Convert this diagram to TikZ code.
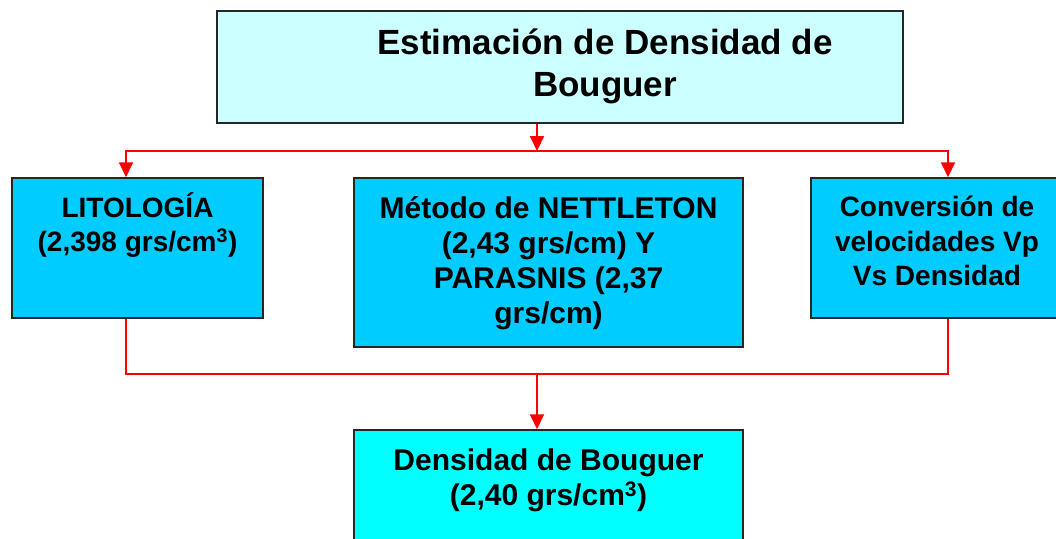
\documentclass[tikz,border=0pt]{standalone}
\usepackage{fontspec}
\setmainfont{Liberation Sans}
\usetikzlibrary{arrows.meta}
\definecolor{celeste}{HTML}{CCFFFF}
\definecolor{azul}{HTML}{00CCFF}
\definecolor{cian}{HTML}{00FFFF}
\tikzset{
  caja/.style={draw=black!85, line width=1.5pt, inner sep=0pt},
  texto/.style={align=center, font=\fontsize{30}{35}\selectfont\bfseries},
  textochico/.style={texto, font=\fontsize{28}{34.5}\selectfont\bfseries},
  linea/.style={draw=red, line width=2pt},
  flecha/.style={linea, -{Triangle[length=15pt,width=14pt]}}
}
\begin{document}
\begin{tikzpicture}[x=1pt,y=-1pt]
\useasboundingbox (0,0) rectangle (1056,538);

\node[caja, fill=celeste, minimum width=686pt, minimum height=112pt] (titulo) at (560,67) {};
\node[texto, font=\fontsize{35}{42}\selectfont\bfseries] (tituloTxt) at (605,66) {Estimación de Densidad de\\Bouguer};

\node[caja, fill=azul, minimum width=251pt, minimum height=140pt] (lito) at (137.5,248) {};
\node[textochico] (litoTxt) at (137.5,225) {LITOLOGÍA\\(2,398 grs/cm\textsuperscript{3})};

\node[caja, fill=azul, minimum width=389pt, minimum height=169pt] (metodo) at (548.5,262.5) {};
\node[texto] (metodoTxt) at (548.5,263) {Método de NETTLETON\\(2,43 grs/cm) Y\\PARASNIS (2,37\\grs/cm)};

\node[caja, fill=azul, minimum width=252pt, minimum height=140pt] (conv) at (937,248) {};
\node[textochico] (convTxt) at (937,241) {Conversión de\\velocidades Vp\\Vs Densidad};

\node[caja, fill=cian, minimum width=389pt, minimum height=140pt] (densidad) at (548.5,500) {};
\node[texto] (densidadTxt) at (548.5,480) {Densidad de Bouguer\\(2,40 grs/cm\textsuperscript{3})};

\coordinate (reparto) at (537,151);
\coordinate (junta) at (537,374);
\draw[flecha] (titulo.south -| reparto) -- (reparto);
\draw[flecha] (reparto) -| ([xshift=-11.5pt]lito.north);
\draw[flecha] (reparto) -| ([xshift=11pt]conv.north);
\draw[linea] ([xshift=-11.5pt]lito.south) |- (junta);
\draw[linea] ([xshift=11pt]conv.south) |- (junta);
\draw[flecha] (junta) -- (densidad.north -| junta);
\end{tikzpicture}
\end{document}
